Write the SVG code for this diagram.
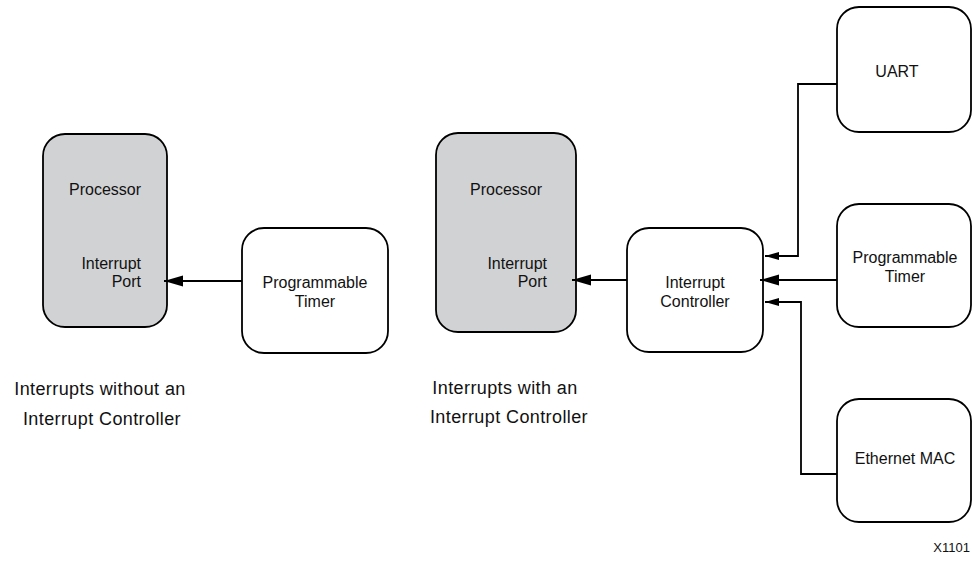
<svg xmlns="http://www.w3.org/2000/svg" width="972" height="565" viewBox="0 0 972 565">
<defs>
<marker id="ahL" markerUnits="userSpaceOnUse" markerWidth="20" markerHeight="12" refX="19" refY="5.5" orient="auto"><path d="M0,0 L19,5.5 L0,11 z" fill="#000"/></marker>
<marker id="ahS" markerUnits="userSpaceOnUse" markerWidth="15" markerHeight="9" refX="14" refY="4" orient="auto"><path d="M0,0 L14,4 L0,8 z" fill="#000"/></marker>
<style>
.box{fill:#fff;stroke:#000;stroke-width:1.8}
.proc{fill:#d1d2d4;stroke:#000;stroke-width:1.8}
.t{font-family:"Liberation Sans",Arial,sans-serif;font-size:16px;fill:#111}
.c{text-anchor:middle}
.r{text-anchor:end}
.cap{font-family:"Liberation Sans",Arial,sans-serif;font-size:18px;letter-spacing:0.4px;fill:#111;text-anchor:middle}
.w{fill:none;stroke:#000;stroke-width:1.8}
</style>
</defs>
<rect width="972" height="565" fill="#fff"/>
<g id="processor-left">
<rect class="proc" x="43" y="134" width="124" height="193" rx="22"/>
<text class="t c" x="105" y="195">Processor</text>
<text class="t r" x="141" y="269">Interrupt</text>
<text class="t r" x="141" y="287">Port</text>
</g>
<g id="timer-left">
<rect class="box" x="242" y="228" width="146" height="125" rx="22"/>
<text class="t c" x="315" y="288">Programmable</text>
<text class="t c" x="315" y="307">Timer</text>
</g>
<g id="processor-right">
<rect class="proc" x="436" y="133" width="140" height="199" rx="22"/>
<text class="t c" x="506" y="195">Processor</text>
<text class="t r" x="547" y="269">Interrupt</text>
<text class="t r" x="547" y="287">Port</text>
</g>
<g id="interrupt-controller">
<rect class="box" x="627" y="228" width="136" height="124" rx="22"/>
<text class="t c" x="695" y="288">Interrupt</text>
<text class="t c" x="695" y="307">Controller</text>
</g>
<g id="uart">
<rect class="box" x="837" y="7" width="134" height="125" rx="22"/>
<text class="t c" x="897" y="77">UART</text>
</g>
<g id="timer-right">
<rect class="box" x="837" y="204" width="134" height="123" rx="22"/>
<text class="t c" x="905" y="263">Programmable</text>
<text class="t c" x="905" y="282">Timer</text>
</g>
<g id="ethernet-mac">
<rect class="box" x="837" y="399" width="134" height="123" rx="22"/>
<text class="t c" x="905" y="464">Ethernet MAC</text>
</g>
<g id="connectors">
<path class="w" d="M242,281 H164" marker-end="url(#ahL)"/>
<path class="w" d="M627,280 H572" marker-end="url(#ahL)"/>
<path class="w" d="M837,84 H798 V256 H765" marker-end="url(#ahS)"/>
<path class="w" d="M837,280 H760" marker-end="url(#ahL)"/>
<path class="w" d="M837,474 H801 V302 H765" marker-end="url(#ahS)"/>
</g>
<g id="captions">
<text class="cap" x="100" y="395">Interrupts without an</text>
<text class="cap" x="102" y="425">Interrupt Controller</text>
<text class="cap" x="505" y="394">Interrupts with an</text>
<text class="cap" x="509" y="423">Interrupt Controller</text>
<text font-family="Liberation Sans, Arial, sans-serif" font-size="13" fill="#111" text-anchor="end" x="970" y="552">X1101</text>
</g>
</svg>
